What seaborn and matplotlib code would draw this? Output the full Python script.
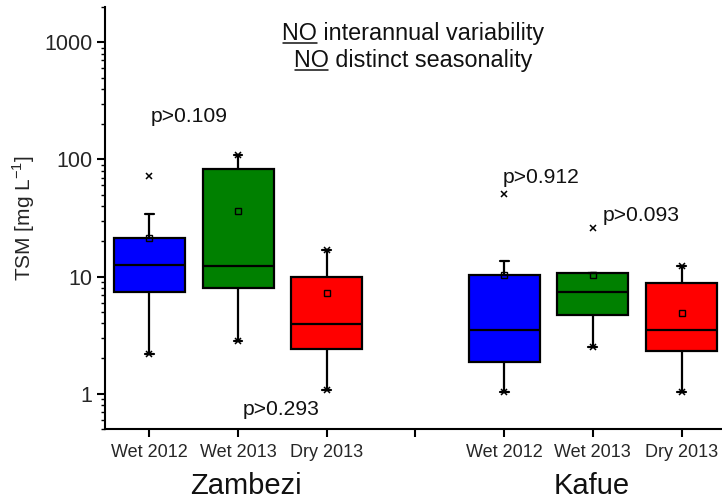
import numpy as np
import pandas as pd
import matplotlib
matplotlib.use("Agg")
import matplotlib.pyplot as plt
import seaborn as sns
from matplotlib.ticker import LogLocator, NullFormatter

# Summary statistics of total suspended matter per river and season
rivers = ["Zambezi", "Zambezi", "Zambezi", "Kafue", "Kafue", "Kafue"]
seasons = ["Wet 2012", "Wet 2013", "Dry 2013", "Wet 2012", "Wet 2013", "Dry 2013"]
slots = [1, 2, 3, 5, 6, 7]
whisker_low = [2.18, 2.84, 1.07, 1.03, 2.51, 1.03]
quartile_1 = [7.4, 8.05, 2.42, 1.88, 4.67, 2.32]
median = [12.6, 12.3, 3.91, 3.50, 7.40, 3.52]
quartile_3 = [21.4, 82.6, 10.0, 10.3, 10.8, 8.89]
whisker_high = [34.4, 109.0, 16.8, 13.7, 10.8, 12.2]
mean = [21.4, 36.4, 7.25, 10.3, 10.3, 4.92]
minimum = [2.18, 2.84, 1.07, 1.03, 2.51, 1.03]
maximum = [72.6, 109.0, 16.8, 50.2, 25.9, 12.2]

tick_slots = [1, 2, 3, 4, 5, 6, 7]
tick_labels = ["Wet 2012", "Wet 2013", "Dry 2013", "", "Wet 2012", "Wet 2013", "Dry 2013"]
group_names = ["Zambezi", "Kafue"]
group_centers = [2.09, 5.99]
y_ticks = [1, 10, 100, 1000]
y_tick_labels = ["1", "10", "100", "1000"]

p_texts = ["p>0.109", "p>0.293", "p>0.912", "p>0.093"]
p_x = [1.45, 2.49, 5.42, 6.55]
p_y = [232, 0.73, 70.5, 33.5]

season_colors = {"Wet 2012": "#0000FF", "Wet 2013": "#008000", "Dry 2013": "#FF0000"}

# Five-number table per box: exact quartiles with whiskers at the extremes
rows = []
for s, x, lo, a, m, b, hi in zip(seasons, slots, whisker_low, quartile_1,
                                  median, quartile_3, whisker_high):
    for v in (lo, a, m, b, hi):
        rows.append({"slot": x, "season": s, "TSM": v})
df = pd.DataFrame(rows)
marks = pd.DataFrame({"slot": slots, "mean": mean, "min": minimum, "max": maximum})

sns.set_theme(style="ticks")
plt.rcParams["font.family"] = ["Liberation Sans", "DejaVu Sans"]
plt.rcParams["mathtext.fontset"] = "custom"
plt.rcParams["mathtext.rm"] = "Liberation Sans"
plt.rcParams["text.color"] = "#111111"

fig = plt.figure(figsize=(7.22, 5.03), dpi=100)
ax = fig.add_axes([0.1454, 0.1471, 0.860, 0.839])
ax.set_yscale("log")

sns.boxplot(data=df, x="slot", y="TSM", hue="season", palette=season_colors,
            native_scale=True, dodge=False, width=0.8, whis=(0, 100),
            saturation=1, linecolor="black", linewidth=1.6, showfliers=False,
            legend=False, capwidths=0.1, ax=ax)

# 1 % / 99 % markers and means
ax.plot(marks["slot"], marks["min"], ls="none", marker="x", ms=5, mew=1.1, color="black", zorder=5)
ax.plot(marks["slot"], marks["max"], ls="none", marker="x", ms=5, mew=1.1, color="black", zorder=5)
ax.plot(marks["slot"], marks["mean"], ls="none", marker="s", ms=4, mew=1.0,
        mfc="none", mec="black", zorder=5)

ax.set_xlim(0.5, 7.5)
ax.set_ylim(0.5, 2000)
ax.set_xticks(tick_slots, tick_labels, fontsize=13)
ax.set_yticks(y_ticks, y_tick_labels, fontsize=15.5)
ax.yaxis.set_minor_locator(LogLocator(base=10, subs=np.arange(2, 10)))
ax.yaxis.set_minor_formatter(NullFormatter())
ax.set_xlabel("")
ax.set_ylabel("TSM [mg L$^{-1}$]", fontsize=15, labelpad=5)

for side in ("top", "right"):
    ax.spines[side].set_visible(False)
for side in ("left", "bottom"):
    ax.spines[side].set_linewidth(1.5)
    ax.spines[side].set_color("black")
ax.tick_params(axis="both", which="major", direction="out", length=6, width=1.5,
               color="black")
ax.tick_params(axis="x", which="major", pad=5)
ax.tick_params(axis="y", which="major", pad=3)
ax.tick_params(axis="y", which="minor", direction="out", length=3, width=1.0, color="black")
ax.tick_params(axis="x", which="minor", bottom=False)

# group names under the season labels
for name, cx in zip(group_names, group_centers):
    ax.text(cx, -0.135, name, transform=ax.get_xaxis_transform(),
            ha="center", va="center", fontsize=21)

for t, x, y in zip(p_texts, p_x, p_y):
    ax.text(x, y, t, ha="center", va="center", fontsize=15.2)

# headline statements with underlined "NO"
fig.canvas.draw()
renderer = fig.canvas.get_renderer()
for line, y in (("NO interannual variability", 1180), ("NO distinct seasonality", 700)):
    t = ax.text(3.97, y, line, ha="center", va="center", fontsize=16.8)
    probe = ax.text(3.97, y, "NO", ha="center", va="center", fontsize=16.8)
    full = t.get_window_extent(renderer)
    w_no = probe.get_window_extent(renderer).width
    probe.remove()
    inv = fig.transFigure.inverted()
    x0, y0 = inv.transform((full.x0 + 1, full.y0 + 2))
    x1, _ = inv.transform((full.x0 + w_no, full.y0 + 2))
    fig.add_artist(plt.Line2D([x0, x1], [y0, y0], transform=fig.transFigure,
                              color="#111111", lw=1.1))

fig.savefig("out.png", dpi=100)
